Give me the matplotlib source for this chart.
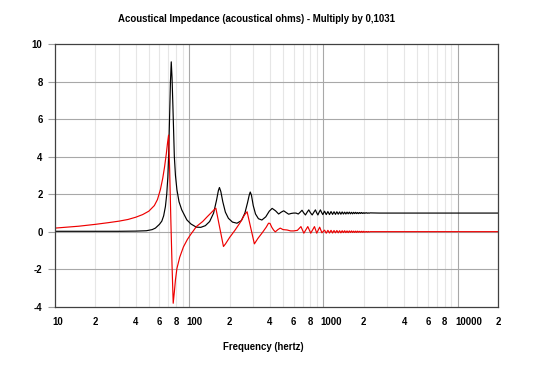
import matplotlib
matplotlib.use('Agg')
import matplotlib.pyplot as plt
import matplotlib.transforms as mtransforms

plt.rcParams['font.family'] = ['Liberation Sans', 'DejaVu Sans']
plt.rcParams['font.weight'] = 'bold'
plt.rcParams['axes.unicode_minus'] = False

# 实部 (黑线) - frequency in Hz and value
re_freq = [10, 20, 30, 40, 48, 53, 56, 60, 62.5, 64.5, 66.5, 68, 69.3, 70.2, 71.3, 72.5, 73.5,
           74.5, 75.6, 77.5, 79, 81, 84, 88, 96, 103, 113, 122, 132, 142, 152, 160, 165,
           168, 172, 178, 186, 196, 210, 227, 245, 260, 272, 280, 285, 291, 300, 312, 328,
           348, 372, 395, 415, 440, 464, 485, 506, 530, 551, 575, 600, 625, 650, 672, 693,
           715, 735, 757, 778, 800, 825, 850, 872, 890, 910, 930, 950, 970, 990]
re_vals = [0.03, 0.03, 0.03, 0.04, 0.06, 0.12, 0.2, 0.4, 0.57, 0.85, 1.35, 2.0, 2.9, 4.0, 5.9, 8.0, 9.05,
           8.2, 6.7, 4.0, 3.0, 2.24, 1.6, 1.17, 0.64, 0.42, 0.25, 0.24, 0.33, 0.55, 1.0, 1.7, 2.2,
           2.36, 2.15, 1.6, 1.05, 0.72, 0.52, 0.46, 0.6, 1.0, 1.55, 1.95, 2.12, 1.95, 1.4, 0.95, 0.7,
           0.63, 0.8, 1.1, 1.25, 1.12, 0.95, 1.05, 1.12, 1.02, 0.94, 0.98, 1.0, 1.0, 0.95, 1.05, 1.15,
           1.0, 0.9, 1.05, 1.17, 1.02, 0.9, 1.05, 1.17, 1.02, 0.9, 1.05, 1.17, 1.03, 0.92]

# 虚部 (红线)
im_freq = [10, 15, 20, 25, 30, 35, 40, 45, 50, 55, 58, 61, 63.5, 65.5, 67.5, 69, 70.2,
           71.5, 73, 74.5, 76, 77.5, 79, 81, 85, 90.6, 97, 103, 108, 113, 126, 136, 145,
           152, 158, 180, 186, 200, 220, 240, 258, 270, 306, 325, 350, 375, 390, 400, 412,
           425, 438, 458, 477, 500, 536, 570, 600, 640, 680, 715, 765, 805, 858, 892, 938, 975]
im_vals = [0.2, 0.3, 0.4, 0.49, 0.57, 0.66, 0.78, 0.92, 1.1, 1.4, 1.72, 2.25, 2.85, 3.45, 4.15, 4.75, 5.15,
           3.3, 0.6, -1.8, -3.8, -3.2, -2.55, -1.95, -1.35, -0.8, -0.4, -0.12, 0.08, 0.28, 0.55, 0.8, 1.0,
           1.15, 1.26, -0.78, -0.65, -0.3, 0.1, 0.5, 0.9, 1.07, -0.64, -0.35, -0.05, 0.25, 0.46, 0.45, 0.25,
           0.1, 0.0, 0.12, 0.2, 0.12, 0.1, 0.05, 0.05, 0.08, 0.28, -0.07, 0.28, -0.07, 0.28, -0.07, 0.25, -0.05]

# 高频小波纹
hf_freq = [1020, 1050, 1080, 1110, 1140, 1170, 1200, 1230, 1260, 1290, 1320, 1350, 1380, 1410,
           1440, 1470, 1500, 1530, 1560, 1590, 1620, 1650, 1680, 1710, 1740, 1770, 1800, 1830,
           1860, 1890, 1920, 1950, 1980, 2010, 2040, 2070, 2100, 2130, 2160, 2190, 2220,
           2600, 3500, 5000, 20000]
hf_re = [1.1, 0.92, 1.08, 0.92, 1.08, 0.93, 1.07, 0.93, 1.07, 0.94, 1.06, 0.94, 1.06, 0.95,
         1.05, 0.95, 1.05, 0.96, 1.05, 0.96, 1.04, 0.96, 1.04, 0.97, 1.04, 0.97, 1.03, 0.97,
         1.03, 0.98, 1.03, 0.98, 1.02, 0.98, 1.02, 0.99, 1.02, 0.99, 1.01, 0.99, 1.01,
         1.0, 1.0, 1.0, 1.0]
hf_im = [0.09, -0.07, 0.08, -0.06, 0.08, -0.06, 0.07, -0.05, 0.07, -0.05, 0.06, -0.05, 0.06, -0.04,
         0.06, -0.04, 0.05, -0.04, 0.05, -0.03, 0.05, -0.03, 0.04, -0.03, 0.04, -0.03, 0.04, -0.02,
         0.03, -0.02, 0.03, -0.02, 0.03, -0.02, 0.02, -0.01, 0.02, -0.01, 0.02, -0.01, 0.01,
         0.01, 0.01, 0.01, 0.01]

x_ticks = [10, 20, 40, 60, 80, 100, 200, 400, 600, 800, 1000, 2000, 4000, 6000, 8000, 10000, 20000]
x_labels = ['10', '2', '4', '6', '8', '100', '2', '4', '6', '8', '1000', '2', '4', '6', '8', '10000', '2']
y_ticks = [-4, -2, 0, 2, 4, 6, 8, 10]

title = 'Acoustical Impedance (acoustical ohms) - Multiply by 0,1031'
xlabel = 'Frequency (hertz)'

fig = plt.figure(figsize=(5.33, 3.67), dpi=100)
ax = fig.add_axes([55 / 533, 1 - 307 / 367, 443 / 533, 263 / 367])

# 网格
for dec in [10, 100, 1000, 10000]:
    for m in range(2, 10):
        if dec * m <= 20000:
            ax.axvline(dec * m, color='#e6e6e6', lw=0.8, zorder=0)
for dec in [100, 1000, 10000]:
    ax.axvline(dec, color='#a8a8a8', lw=0.8, zorder=0)
for y in y_ticks[1:-1]:
    ax.axhline(y, color='#a8a8a8', lw=0.8, zorder=0)

ax.plot(re_freq + hf_freq, re_vals + hf_re, color='black', lw=0.85)
ax.plot(im_freq + hf_freq, im_vals + hf_im, color='#ee0000', lw=0.85)

ax.set_xscale('log')
ax.set_xlim(10, 20000)
ax.set_ylim(-4, 10)
ax.minorticks_off()
ax.set_xticks(x_ticks)
ax.set_xticklabels(x_labels)
ax.set_yticks(y_ticks)
ax.tick_params(axis='x', length=0, pad=7, labelsize=6.9)
ax.tick_params(axis='y', length=5, width=0.8, color='#a0a0a0', pad=4, labelsize=6.9)

offset = mtransforms.ScaledTranslation(-0.027, 0, fig.dpi_scale_trans)
for lab in ax.get_xticklabels():
    lab.set_horizontalalignment('left')
    lab.set_transform(lab.get_transform() + offset)

for sp in ax.spines.values():
    sp.set_color('#404040')
    sp.set_linewidth(0.9)

fig.text(257 / 533, 1 - 19 / 367, title, ha='center', va='center', fontsize=6.9, fontweight='bold')
fig.text(263 / 533, 1 - 347 / 367, xlabel, ha='center', va='center', fontsize=6.9, fontweight='bold')

fig.savefig('out.png', dpi=100, facecolor='white')
